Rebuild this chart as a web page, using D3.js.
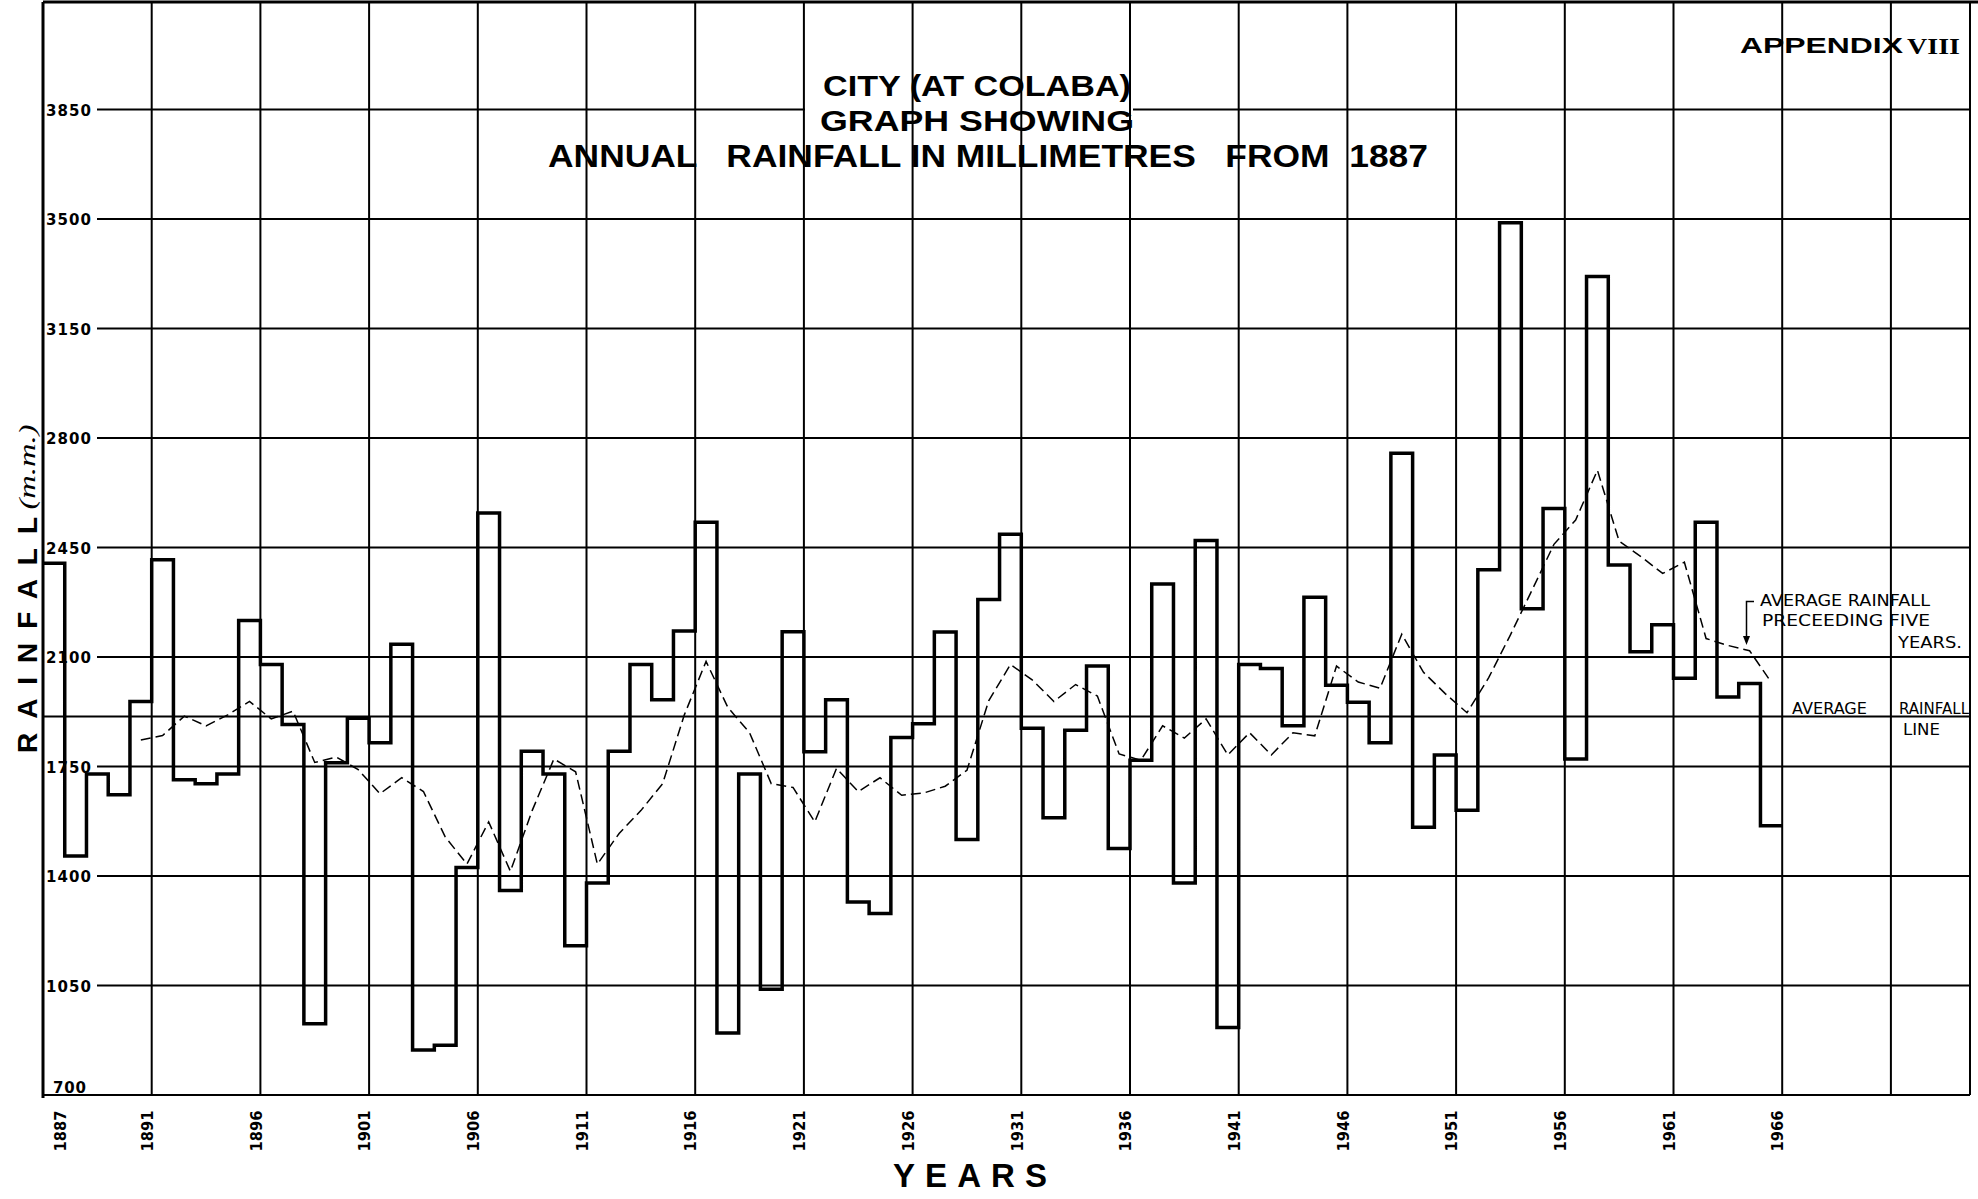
<!DOCTYPE html>
<html>
<head>
<meta charset="utf-8">
<script src="https://cdn.jsdelivr.net/npm/d3@7/dist/d3.min.js"></script>
<style>
  body { margin: 0; background: #fff; }
  svg { display: block; }
  text { white-space: pre; }
</style>
</head>
<body>
<div id="chart"></div>
<script>
// Annual rainfall at Colaba, mm, 1887-1966
const years = d3.range(1887, 1967);
const rainfall = [
  2400, 1464, 1726, 1660, 1958, 2411, 1708, 1695, 1726, 2217,
  2076, 1884, 928, 1762, 1904, 1826, 2141, 844, 859, 1427,
  2560, 1354, 1799, 1726, 1177, 1378, 1799, 2076, 1963, 2183,
  2531, 898, 1726, 1038, 2181, 1797, 1963, 1317, 1280, 1843,
  1887, 2180, 1517, 2284, 2492, 1872, 1586, 1866, 2071, 1488,
  1770, 2333, 1378, 2472, 916, 2076, 2063, 1880, 2291, 2010,
  1955, 1826, 2751, 1556, 1787, 1610, 2379, 3488, 2254, 2575,
  1774, 3316, 2394, 2117, 2203, 2032, 2531, 1972, 2015, 1561
];

// Average rainfall of the preceding five years (dashed line)
const avgYears = d3.range(1891, 1967);
const fiveYearAvg = [
  1835, 1849, 1911, 1880, 1915, 1958, 1902, 1927, 1763, 1780,
  1740, 1663, 1714, 1670, 1525, 1438, 1573, 1415, 1609, 1774,
  1733, 1438, 1536, 1609, 1695, 1915, 2086, 1939, 1858, 1695,
  1683, 1573, 1744, 1670, 1714, 1658, 1665, 1687, 1738, 1960,
  2076, 2027, 1958, 2012, 1975, 1790, 1770, 1880, 1841, 1902,
  1787, 1858, 1787, 1858, 1848, 2071, 2020, 2000, 2173, 2051,
  1983, 1922, 2034, 2171, 2315, 2460, 2538, 2697, 2470, 2421,
  2367, 2403, 2159, 2137, 2120, 2019
];

const averageRainfall = 1910;
const yTicks = [700, 1050, 1400, 1750, 2100, 2450, 2800, 3150, 3500, 3850];
const xTickYears = [1887, 1891, 1896, 1901, 1906, 1911, 1916, 1921, 1926, 1931,
  1936, 1941, 1946, 1951, 1956, 1961, 1966];
const gridYears = d3.range(1891, 1972, 5);

const width = 1978, height = 1199;
const frameTop = 2, frameRight = 1970;

const x = d3.scaleLinear().domain([1886, 1971]).range([43, 43 + 85 * 21.74]);
const y = d3.scaleLinear().domain([700, 3850]).range([1095, 109.5]);

const svg = d3.select("#chart").append("svg")
  .attr("width", width)
  .attr("height", height);

svg.append("rect").attr("width", width).attr("height", height).attr("fill", "#fff");

const handFont = "'DejaVu Sans', sans-serif";
const boldFont = "'Liberation Sans', Arial, sans-serif";

// horizontal grid lines (start right of the tick labels)
svg.selectAll(".hgrid")
  .data(yTicks)
  .enter()
  .append("line")
  .attr("x1", d => d === 700 ? x(1886) : 97)
  .attr("x2", frameRight)
  .attr("y1", d => y(d))
  .attr("y2", d => y(d))
  .attr("stroke", "#000")
  .attr("stroke-width", 2);

// average rainfall line runs from the axis
svg.append("line")
  .attr("x1", x(1886)).attr("x2", frameRight)
  .attr("y1", y(averageRainfall)).attr("y2", y(averageRainfall))
  .attr("stroke", "#000").attr("stroke-width", 2);

// gap in top grid line behind the title
svg.append("rect")
  .attr("x", 805).attr("y", 100).attr("width", 328).attr("height", 16)
  .attr("fill", "#fff");

// vertical grid lines
svg.selectAll(".vgrid")
  .data(gridYears)
  .enter()
  .append("line")
  .attr("x1", d => x(d)).attr("x2", d => x(d))
  .attr("y1", frameTop).attr("y2", y(700))
  .attr("stroke", "#000")
  .attr("stroke-width", 2);

// frame
svg.append("line").attr("x1", x(1886)).attr("x2", frameRight + 8)
  .attr("y1", frameTop).attr("y2", frameTop)
  .attr("stroke", "#000").attr("stroke-width", 3);
svg.append("line").attr("x1", frameRight).attr("x2", frameRight)
  .attr("y1", frameTop).attr("y2", y(700))
  .attr("stroke", "#000").attr("stroke-width", 2);
svg.append("line").attr("x1", x(1886)).attr("x2", x(1886))
  .attr("y1", frameTop).attr("y2", y(700) + 3)
  .attr("stroke", "#000").attr("stroke-width", 3);

// y tick labels
svg.selectAll(".ylab")
  .data(yTicks)
  .enter()
  .append("text")
  .attr("x", d => d === 700 ? 53 : 46)
  .attr("y", d => d === 700 ? y(d) - 2 : y(d) + 6)
  .attr("font-family", handFont)
  .attr("font-weight", 600)
  .attr("font-size", 15)
  .attr("textLength", d => d === 700 ? 33 : 45)
  .attr("lengthAdjust", "spacing")
  .text(d => d);

// x tick labels (rotated)
svg.selectAll(".xlab")
  .data(xTickYears)
  .enter()
  .append("text")
  .attr("transform", d => `translate(${x(d) - 4},1131) rotate(-90)`)
  .attr("text-anchor", "middle")
  .attr("dy", "0.35em")
  .attr("font-family", handFont)
  .attr("font-weight", "bold")
  .attr("font-size", 15)
  .attr("textLength", 41)
  .attr("lengthAdjust", "spacingAndGlyphs")
  .text(d => d);

// annual rainfall step line
const stepPts = [];
years.forEach((yr, i) => {
  stepPts.push([x(yr - 1), y(rainfall[i])]);
  stepPts.push([x(yr), y(rainfall[i])]);
});
svg.append("path")
  .attr("d", d3.line()(stepPts))
  .attr("fill", "none")
  .attr("stroke", "#000")
  .attr("stroke-width", 3.5)
  .attr("stroke-linejoin", "miter");

// five-year average dashed line
svg.append("path")
  .datum(avgYears.map((yr, i) => [x(yr - 0.5), y(fiveYearAvg[i])]))
  .attr("d", d3.line())
  .attr("fill", "none")
  .attr("stroke", "#000")
  .attr("stroke-width", 1.5)
  .attr("stroke-dasharray", "10,5");

// titles
const title = [
  { t: "CITY (AT COLABA)", cx: 977, yb: 96, len: 308, fs: 29 },
  { t: "GRAPH SHOWING", cx: 977, yb: 131, len: 314, fs: 29 },
  { t: "ANNUAL   RAINFALL IN MILLIMETRES   FROM  1887", cx: 988, yb: 167, len: 880, fs: 32 }
];
svg.selectAll(".title")
  .data(title)
  .enter()
  .append("text")
  .attr("x", d => d.cx - d.len / 2)
  .attr("y", d => d.yb)
  .attr("font-family", boldFont)
  .attr("font-weight", "bold")
  .attr("font-size", d => d.fs)
  .attr("textLength", d => d.len)
  .attr("lengthAdjust", "spacingAndGlyphs")
  .text(d => d.t);

svg.append("text")
  .attr("x", 1740).attr("y", 53)
  .attr("font-family", boldFont).attr("font-weight", "bold").attr("font-size", 22)
  .attr("textLength", 163).attr("lengthAdjust", "spacingAndGlyphs")
  .text("APPENDIX");
svg.append("text")
  .attr("x", 1907).attr("y", 54)
  .attr("font-family", "'Liberation Serif', serif").attr("font-weight", "bold").attr("font-size", 24)
  .attr("textLength", 53).attr("lengthAdjust", "spacingAndGlyphs")
  .text("VIII");

// axis titles
svg.append("text")
  .attr("transform", "translate(37,635) rotate(-90)")
  .attr("text-anchor", "middle")
  .attr("font-family", boldFont).attr("font-weight", "bold").attr("font-size", 28)
  .attr("textLength", 236).attr("lengthAdjust", "spacing")
  .text("RAINFALL");
svg.append("text")
  .attr("transform", "translate(35,467) rotate(-90)")
  .attr("text-anchor", "middle")
  .attr("font-family", "'Liberation Serif', serif").attr("font-style", "italic").attr("font-size", 24)
  .attr("textLength", 85).attr("lengthAdjust", "spacingAndGlyphs")
  .text("(m.m.)");

svg.append("text")
  .attr("x", 893).attr("y", 1187)
  .attr("font-family", boldFont).attr("font-weight", "bold").attr("font-size", 33)
  .attr("textLength", 154).attr("lengthAdjust", "spacing")
  .text("YEARS");

// annotations
const notes = [
  { t: "AVERAGE RAINFALL", x: 1760, y: 606, len: 170 },
  { t: "PRECEEDING FIVE", x: 1762, y: 626, len: 168 },
  { t: "YEARS.", x: 1898, y: 648, len: 64 },
  { t: "AVERAGE", x: 1792, y: 714, len: 75 },
  { t: "RAINFALL", x: 1899, y: 714, len: 70 },
  { t: "LINE", x: 1903, y: 735, len: 37 }
];
svg.selectAll(".note")
  .data(notes)
  .enter()
  .append("text")
  .attr("x", d => d.x).attr("y", d => d.y)
  .attr("font-family", handFont).attr("font-size", 15)
  .attr("textLength", d => d.len).attr("lengthAdjust", "spacingAndGlyphs")
  .text(d => d.t);

svg.append("path")
  .attr("d", "M1754,601.5 H1746.5 V640")
  .attr("fill", "none").attr("stroke", "#000").attr("stroke-width", 1.5);
svg.append("path")
  .attr("d", "M1743,636 L1746.5,645 L1750,636 Z")
  .attr("fill", "#000");
</script>
</body>
</html>
